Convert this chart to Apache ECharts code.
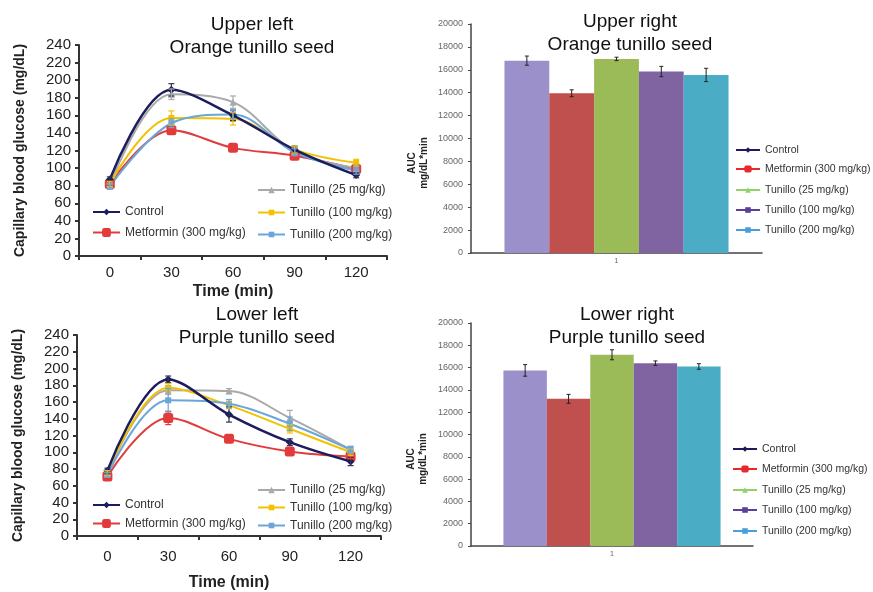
<!DOCTYPE html>
<html><head><meta charset="utf-8">
<script src="https://cdn.jsdelivr.net/npm/echarts@6/dist/echarts.min.js"></script>
<style>html,body{margin:0;padding:0;background:#fff}#c{width:873px;height:592px}</style>
</head><body><div id="c"></div>
<script>
// ---------- DATA ----------
const timeLabels = ['0', '30', '60', '90', '120'];
const groupNames = ['Control', 'Metformin (300 mg/kg)', 'Tunillo (25 mg/kg)', 'Tunillo (100 mg/kg)', 'Tunillo (200 mg/kg)'];
const aucCategory = ['1'];

// Upper left: orange tunillo seed, glucose (mg/dL) at 0,30,60,90,120 min
const orangeControl   = [87, 189, 160, 121, 92];
const orangeMetformin = [82, 143, 123, 114, 99];
const orangeT25       = [80, 184, 175, 119, 100];
const orangeT100      = [82, 157, 156, 121, 106];
const orangeT200      = [79, 151, 161, 118, 97];
const orangeControlErr   = [3, 7, 6, 4, 3];
const orangeMetforminErr = [2, 4, 3, 3, 3];
const orangeT25Err       = [3, 6, 7, 4, 4];
const orangeT100Err      = [3, 8, 7, 4, 4];
const orangeT200Err      = [3, 5, 5, 4, 4];

// Lower left: purple tunillo seed
const purpleControl   = [78, 187, 145, 112, 89];
const purpleMetformin = [71, 141, 116, 101, 95];
const purpleT25       = [75, 174, 173, 141, 103];
const purpleT100      = [75, 177, 156, 128, 100];
const purpleT200      = [73, 162, 158, 134, 103];
const purpleControlErr   = [3, 4, 9, 4, 5];
const purpleMetforminErr = [3, 8, 3, 3, 3];
const purpleT25Err       = [3, 5, 3, 9, 4];
const purpleT100Err      = [3, 5, 4, 5, 4];
const purpleT200Err      = [3, 14, 5, 8, 4];

// Upper right: AUC orange seed (mg/dL*min)
const orangeAUC    = [16800, 13950, 16950, 15850, 15550];
const orangeAUCErr = [400, 300, 150, 450, 580];
// Lower right: AUC purple seed
const purpleAUC    = [15750, 13200, 17150, 16400, 16100];
const purpleAUCErr = [520, 400, 450, 200, 250];

// ---------- STYLE ----------
const FONT = 'Liberation Sans, Arial, Helvetica, sans-serif';
const lineColors = ['#1c1c5e', '#e23b3b', '#a9a9a9', '#f2c200', '#6aa6da'];
const lineSymbols = ['diamond', 'roundRect', 'triangle', 'rect', 'rect'];
const lineSymbolSizes = [8, 10, 7, 6, 6];
const barColors = ['#9b90c9', '#c0504d', '#9bbb59', '#8064a2', '#4bacc6'];
const rightLegendColors = ['#1f1a5a', '#e8292b', '#8fd16b', '#5b3f9a', '#4a9fd8'];

const orangeLines = [orangeControl, orangeMetformin, orangeT25, orangeT100, orangeT200];
const orangeErrs = [orangeControlErr, orangeMetforminErr, orangeT25Err, orangeT100Err, orangeT200Err];
const purpleLines = [purpleControl, purpleMetformin, purpleT25, purpleT100, purpleT200];
const purpleErrs = [purpleControlErr, purpleMetforminErr, purpleT25Err, purpleT100Err, purpleT200Err];

const series = [];
function addLines(lines, gi) {
  lines.forEach((d, i) => {
    series.push({
      type: 'line', name: groupNames[i], data: d,
      xAxisIndex: gi, yAxisIndex: gi, smooth: 0.35,
      symbol: lineSymbols[i], symbolSize: lineSymbolSizes[i],
      lineStyle: { color: lineColors[i], width: i === 0 ? 2.5 : 2 },
      itemStyle: { color: lineColors[i] }, z: 2 + (i === 0 ? 1 : 0)
    });
  });
}
addLines(orangeLines, 0);
addLines(purpleLines, 1);

function addBars(vals, gi) {
  vals.forEach((v, i) => {
    series.push({
      type: 'bar', name: groupNames[i], data: [v],
      xAxisIndex: gi, yAxisIndex: gi, barGap: 0, barCategoryGap: '23%',
      itemStyle: { color: barColors[i] }, z: 2
    });
  });
}
addBars(orangeAUC, 2);
addBars(purpleAUC, 3);

function lineErrRender(color) {
  return function (params, api) {
    const x = api.value(0);
    const p1 = api.coord([x, api.value(1)]);
    const p2 = api.coord([x, api.value(2)]);
    const w = 3;
    const st = { stroke: color, lineWidth: 1.2 };
    return { type: 'group', children: [
      { type: 'line', shape: { x1: p1[0], y1: p1[1], x2: p2[0], y2: p2[1] }, style: st },
      { type: 'line', shape: { x1: p1[0] - w, y1: p1[1], x2: p1[0] + w, y2: p1[1] }, style: st },
      { type: 'line', shape: { x1: p2[0] - w, y1: p2[1], x2: p2[0] + w, y2: p2[1] }, style: st }
    ]};
  };
}
function addLineErrs(lines, errs, gi) {
  lines.forEach((d, i) => {
    series.push({
      type: 'custom', name: 'err' + gi + '_' + i, xAxisIndex: gi, yAxisIndex: gi,
      renderItem: lineErrRender(i === 0 ? '#333355' : lineColors[i]),
      encode: { x: 0, y: [1, 2] }, z: 4, silent: true,
      data: d.map((v, k) => [k, v - errs[i][k], v + errs[i][k]])
    });
  });
}
addLineErrs(orangeLines, orangeErrs, 0);
addLineErrs(purpleLines, purpleErrs, 1);

function barErrRender(params, api) {
  const c = api.coord([api.value(0), 0]);
  const band = api.size([1, 0])[0];
  const bw = band * 0.77 / 5;
  const cx = c[0] + (api.value(3) - 2) * bw;
  const yLo = api.coord([api.value(0), api.value(1)])[1];
  const yHi = api.coord([api.value(0), api.value(2)])[1];
  const w = 2;
  const st = { stroke: '#222', lineWidth: 1 };
  return { type: 'group', children: [
    { type: 'line', shape: { x1: cx, y1: yLo, x2: cx, y2: yHi }, style: st },
    { type: 'line', shape: { x1: cx - w, y1: yLo, x2: cx + w, y2: yLo }, style: st },
    { type: 'line', shape: { x1: cx - w, y1: yHi, x2: cx + w, y2: yHi }, style: st }
  ]};
}
function addBarErrs(vals, errs, gi) {
  series.push({
    type: 'custom', name: 'barerr' + gi, xAxisIndex: gi, yAxisIndex: gi,
    renderItem: barErrRender, encode: { x: 0, y: [1, 2] }, z: 4, silent: true,
    data: vals.map((v, i) => [0, v - errs[i], v + errs[i], i])
  });
}
addBarErrs(orangeAUC, orangeAUCErr, 2);
addBarErrs(purpleAUC, purpleAUCErr, 3);

// ---------- AXES ----------
function leftX(gi, labelMargin, nameGap) {
  return {
    type: 'category', gridIndex: gi, data: timeLabels, boundaryGap: true,
    name: 'Time (min)', nameLocation: 'middle', nameGap: nameGap,
    nameTextStyle: { fontFamily: FONT, fontSize: 16, fontWeight: 'bold', color: '#222' },
    axisLine: { lineStyle: { color: '#333', width: 2 } },
    axisTick: { show: true, alignWithLabel: false, length: 4, lineStyle: { color: '#333', width: 2 } },
    axisLabel: { fontFamily: FONT, fontSize: 15, color: '#222', margin: labelMargin },
    splitLine: { show: false }
  };
}
function leftY(gi) {
  return {
    type: 'value', gridIndex: gi, min: 0, max: 240, interval: 20,
    name: 'Capillary blood glucose (mg/dL)', nameLocation: 'middle', nameGap: 52,
    nameTextStyle: { fontFamily: FONT, fontSize: 14, fontWeight: 'bold', color: '#222' },
    axisLine: { show: true, lineStyle: { color: '#333', width: 2 } },
    axisTick: { show: true, length: 4, lineStyle: { color: '#333', width: 2 } },
    axisLabel: { fontFamily: FONT, fontSize: 15, color: '#222', margin: 8 },
    splitLine: { show: false }
  };
}
function rightX(gi) {
  return {
    type: 'category', gridIndex: gi, data: aucCategory,
    axisLine: { lineStyle: { color: '#444', width: 1.5 } },
    axisTick: { show: false },
    axisLabel: { fontFamily: FONT, fontSize: 7, color: '#666', margin: 5 },
    splitLine: { show: false }
  };
}
function rightY(gi) {
  return {
    type: 'value', gridIndex: gi, min: 0, max: 20000, interval: 2000,
    axisLine: { show: true, lineStyle: { color: '#444', width: 1.5 } },
    axisTick: { show: true, length: 3, lineStyle: { color: '#444' } },
    axisLabel: { fontFamily: FONT, fontSize: 9, color: '#666', margin: 8,
      formatter: function (v) { return String(v); } },
    splitLine: { show: false }
  };
}

function titleAt(text, cx, top) {
  return { text: text, left: cx - 5, top: top, textAlign: 'center',
    textStyle: { fontFamily: FONT, fontSize: 19, fontWeight: 'normal', lineHeight: 23, color: '#111' } };
}

const legendText = { fontFamily: FONT, fontSize: 12, color: '#333' };
const rightLegendText = { fontFamily: FONT, fontSize: 10.5, color: '#333' };

// one legend entry per component so each marker can have its own size
const legends = [];
function legendItem(i, left, cy, h, w, textStyle, colorOverride) {
  const item = { name: groupNames[i] };
  if (colorOverride) {
    item.itemStyle = { color: colorOverride };
    item.lineStyle = { color: colorOverride, width: 2 };
  }
  legends.push({ orient: 'vertical', left: left, top: cy - h / 2, padding: 0,
    itemWidth: w, itemHeight: h, data: [item], textStyle: textStyle, selectedMode: false });
}
const leftLegendH = [8, 11, 8, 7, 7];
// upper left
legendItem(0, 92, 210, leftLegendH[0], 27, legendText);
legendItem(1, 92, 232, leftLegendH[1], 27, legendText);
legendItem(2, 257, 188, leftLegendH[2], 27, legendText);
legendItem(3, 257, 210, leftLegendH[3], 27, legendText);
legendItem(4, 257, 232, leftLegendH[4], 27, legendText);
// lower left
legendItem(0, 92, 503, leftLegendH[0], 27, legendText);
legendItem(1, 92, 523, leftLegendH[1], 27, legendText);
legendItem(2, 257, 488, leftLegendH[2], 27, legendText);
legendItem(3, 257, 505, leftLegendH[3], 27, legendText);
legendItem(4, 257, 523, leftLegendH[4], 27, legendText);
// right legends
const rightLegendH = [7, 9, 7, 7, 7];
[148, 168, 188, 208, 228].forEach((cy, i) =>
  legendItem(i, 735, cy, rightLegendH[i], 24, rightLegendText, rightLegendColors[i]));
[447, 468, 488, 508, 529].forEach((cy, i) =>
  legendItem(i, 732, cy, rightLegendH[i], 24, rightLegendText, rightLegendColors[i]));

const option = {
  backgroundColor: '#fff',
  animation: false,
  title: [
    titleAt('Upper left\nOrange tunillo seed', 252, 8),
    titleAt('Upper right\nOrange tunillo seed', 630, 5),
    titleAt('Lower left\nPurple tunillo seed', 257, 298),
    titleAt('Lower right\nPurple tunillo seed', 627, 298)
  ],
  grid: [
    { left: 79, top: 45, width: 308, height: 211 },
    { left: 77, top: 335, width: 304, height: 201 },
    { left: 471, top: 24, width: 291, height: 229 },
    { left: 471, top: 323, width: 282, height: 223 }
  ],
  xAxis: [leftX(0, 9, 28), leftX(1, 13, 39), rightX(2), rightX(3)],
  yAxis: [leftY(0), leftY(1), rightY(2), rightY(3)],
  legend: legends,
  graphic: [
    { type: 'text', x: 418, y: 163, rotation: Math.PI / 2,
      style: { text: 'AUC\nmg/dL*min', textAlign: 'center', textVerticalAlign: 'middle',
        font: 'bold 10px ' + FONT, fill: '#222', lineHeight: 12 } },
    { type: 'text', x: 417, y: 459, rotation: Math.PI / 2,
      style: { text: 'AUC\nmg/dL*min', textAlign: 'center', textVerticalAlign: 'middle',
        font: 'bold 10px ' + FONT, fill: '#222', lineHeight: 12 } }
  ],
  series: series
};

const chart = echarts.init(document.getElementById('c'), null, { renderer: 'canvas' });
chart.setOption(option);
</script>
</body></html>
